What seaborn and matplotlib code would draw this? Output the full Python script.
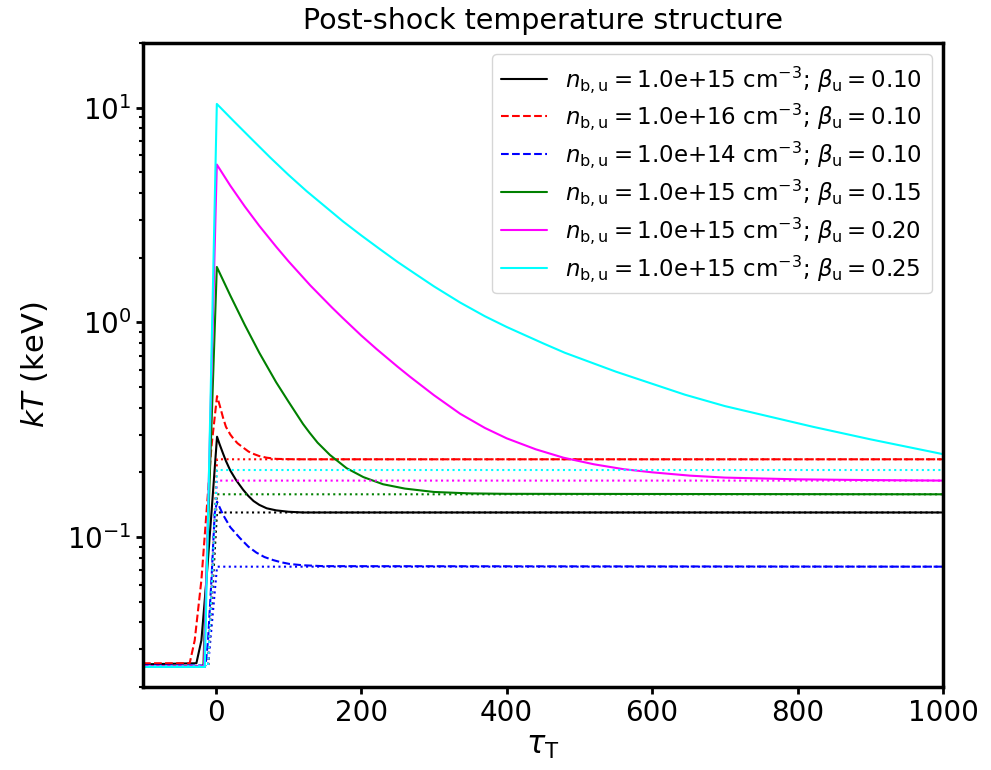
import numpy as np
import pandas as pd
import matplotlib
matplotlib.use("Agg")
import matplotlib.pyplot as plt
import seaborn as sns

# ---------------- data ----------------
tau_black = [-100, -26.6, -19.7, -12.8, -5.9, 1.8, 5, 10, 14, 20, 28, 37.6, 45, 52, 60, 70, 83, 100, 120, 200, 1000]
kT_black = [0.0255, 0.0258, 0.033, 0.063, 0.129, 0.293, 0.272, 0.245, 0.226, 0.204, 0.184, 0.166, 0.155, 0.147, 0.141, 0.136, 0.133, 0.131, 0.130, 0.130, 0.130]

tau_red = [-100, -35.8, -28.9, -19.7, -12.8, -5.9, 1.8, 6, 10, 14, 20, 25, 30, 37.6, 45, 50, 60, 70, 83, 100, 120, 1000]
kT_red = [0.0258, 0.0258, 0.033, 0.063, 0.129, 0.263, 0.453, 0.404, 0.360, 0.326, 0.300, 0.285, 0.273, 0.261, 0.250, 0.245, 0.238, 0.234, 0.231, 0.2303, 0.230, 0.230]

tau_blue = [-100, -14, -10.6, -5.9, -1.4, 1.8, 10, 20, 33, 45, 56, 67, 79, 90, 102, 120, 148, 1000]
kT_blue = [0.0252, 0.0252, 0.033, 0.063, 0.129, 0.146, 0.127, 0.111, 0.099, 0.090, 0.0845, 0.0806, 0.0780, 0.0762, 0.0748, 0.0738, 0.0731, 0.0727]

tau_green = [-100, -17, 1.5, 20, 40, 60, 83, 100, 120, 129, 140, 157, 180, 203, 230, 260, 300, 350, 400, 1000]
kT_green = [0.025, 0.025, 1.81, 1.333, 0.971, 0.720, 0.526, 0.427, 0.336, 0.306, 0.275, 0.241, 0.209, 0.190, 0.176, 0.168, 0.162, 0.1595, 0.1588, 0.158]

tau_magenta = [-100, -16, 1.5, 20, 40, 60, 83, 100, 130, 160, 175, 200, 221, 250, 267, 300, 336, 370, 400, 440, 478, 520, 560, 600, 652, 700, 800, 900, 1000]
kT_magenta = [0.025, 0.025, 5.43, 4.33, 3.46, 2.81, 2.25, 1.924, 1.485, 1.17, 1.044, 0.868, 0.751, 0.621, 0.558, 0.4575, 0.375, 0.322, 0.288, 0.256, 0.234, 0.218, 0.207, 0.200, 0.193, 0.189, 0.1855, 0.184, 0.183]

tau_cyan = [-100, -15, 1.5, 25, 50, 75, 100, 125, 150, 175, 200, 225, 250, 275, 300, 336, 370, 400, 450, 480, 550, 645, 700, 821, 900, 1000]
kT_cyan = [0.0248, 0.0248, 10.4, 8.63, 7.10, 5.85, 4.86, 4.08, 3.47, 2.95, 2.54, 2.20, 1.91, 1.675, 1.47, 1.236, 1.067, 0.951, 0.798, 0.721, 0.589, 0.460, 0.407, 0.326, 0.285, 0.243]

# equilibrium (dotted) levels
tau_eq = [-100, -10.6, 1.8, 1000]
eq_black = [0.025, 0.025, 0.130, 0.130]
eq_red = [0.025, 0.025, 0.230, 0.230]
eq_blue = [0.025, 0.025, 0.0727, 0.0727]
eq_green = [0.025, 0.025, 0.158, 0.158]
eq_magenta = [0.025, 0.025, 0.183, 0.183]
eq_cyan = [0.025, 0.025, 0.205, 0.205]

densities = ["1.0e+15", "1.0e+16", "1.0e+14", "1.0e+15", "1.0e+15", "1.0e+15"]
betas = ["0.10", "0.10", "0.10", "0.15", "0.20", "0.25"]
colors = ["#000000", "#ff0000", "#0000ff", "#008000", "#ff00ff", "#00ffff"]
styles = ["-", "--", "--", "-", "-", "-"]

curves = [(tau_black, kT_black), (tau_red, kT_red), (tau_blue, kT_blue),
          (tau_green, kT_green), (tau_magenta, kT_magenta), (tau_cyan, kT_cyan)]
eqs = [eq_black, eq_red, eq_blue, eq_green, eq_magenta, eq_cyan]

# ---------------- style ----------------
sns.set_theme(style="ticks")
plt.rcParams["font.family"] = ["DejaVu Sans"]
plt.rcParams["mathtext.fontset"] = "dejavusans"
plt.rcParams["axes.linewidth"] = 2.5
for key in ["axes.edgecolor", "text.color", "axes.labelcolor", "xtick.color", "ytick.color"]:
    plt.rcParams[key] = "black"

fig = plt.figure(figsize=(9.91, 7.70), dpi=100)
ax = fig.add_axes([0.1443, 0.1078, 0.9516 - 0.1443, 0.9442 - 0.1078])

for (t, k), eq, c, ls, n, b in zip(curves, eqs, colors, styles, densities, betas):
    lab = r"$n_{\rm b,u} = $" + n + r" cm$^{-3}$; $\beta_{\rm u} = $" + b
    df = pd.DataFrame({"tau": t, "kT": k})
    sns.lineplot(data=df, x="tau", y="kT", ax=ax, color=c, linestyle=ls,
                 linewidth=1.5, label=lab, estimator=None, sort=False, legend=False)
    dfe = pd.DataFrame({"tau": tau_eq, "kT": eq})
    sns.lineplot(data=dfe, x="tau", y="kT", ax=ax, color=c, linestyle=":",
                 linewidth=1.5, estimator=None, sort=False, legend=False)

ax.set_yscale("log")
ax.set_xlim(-100, 1000)
ax.set_ylim(0.02, 20)
ax.set_xticks([0, 200, 400, 600, 800, 1000])

ax.tick_params(axis="both", which="major", labelsize=20, width=2, length=5, direction="out")
ax.tick_params(axis="y", which="minor", width=1.5, length=3, direction="out")

ax.set_xlabel(r"$\tau_{\rm T}$", fontsize=22)
ax.set_ylabel(r"$kT$ (keV)", fontsize=22, labelpad=12)
ax.set_title("Post-shock temperature structure", fontsize=20.5, pad=10)

ax.legend(loc="upper right", fontsize=16.5, labelspacing=0.3)

fig.savefig("out.png", dpi=100)
